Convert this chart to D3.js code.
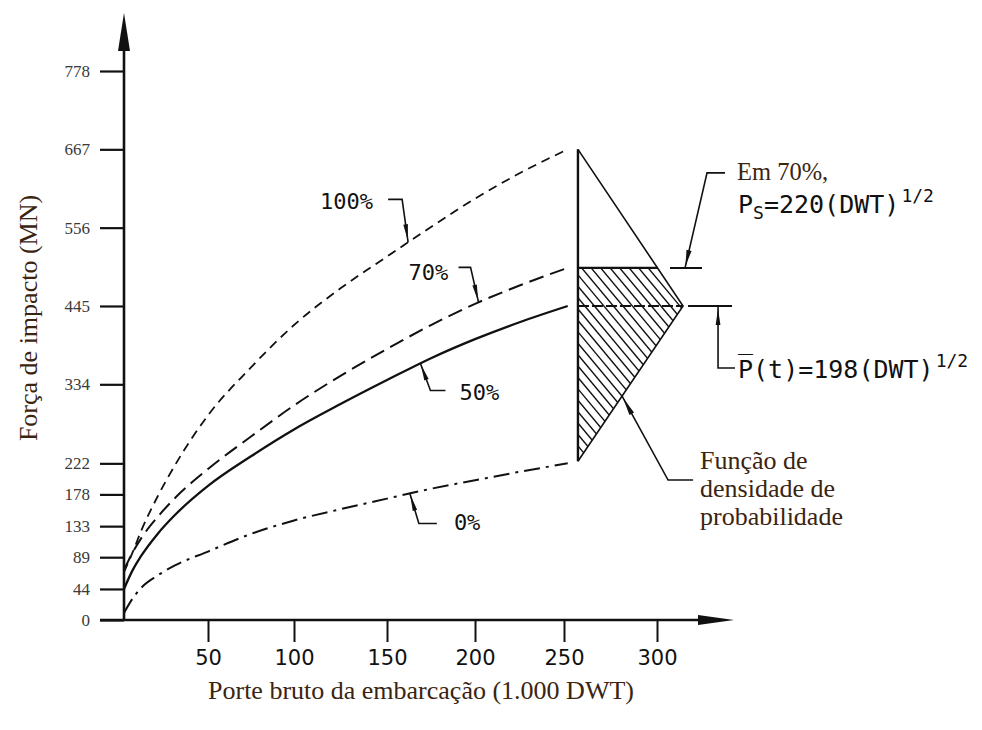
<!DOCTYPE html>
<html lang="pt">
<head>
<meta charset="UTF-8">
<title>Força de impacto x porte bruto</title>
<script src="https://d3js.org/d3.v7.min.js"></script>
<style>
  body { margin: 0; background: #fff; }
  .serif { font-family: 'Liberation Serif', 'Times New Roman', serif; }
  .plotter { font-family: 'DejaVu Sans Mono', monospace; }
</style>
</head>
<body>
<script>
const width = 982, height = 730;

// porte bruto da embarcação (1.000 DWT)
const dwt  = [0, 5, 10, 20, 30, 50, 75, 100, 125, 150, 175, 200, 225, 252];
// força de impacto (MN) para cada nível de probabilidade
const p100 = [68, 95, 125, 175, 218, 290, 358, 418, 470, 515, 557, 597, 633, 667];
const p70  = [71, 95, 115, 146, 172, 214, 260, 304, 346, 384, 418, 448, 474, 499];
const p50  = [44, 70, 90, 122, 148, 190, 232, 270, 306, 340, 371, 398, 422, 445];
const p0   = [10, 30, 45, 63, 77, 97, 122, 141, 157, 172, 186, 198, 210, 222];

const yTicks = [0, 44, 89, 133, 178, 222, 334, 445, 556, 667, 778];
const xTicks = [50, 100, 150, 200, 250, 300];
const xTickPos = [124, 208, 294, 387, 475, 564, 657];   // eixo desenhado à mão

// função de densidade (triângulo) em 250 mil DWT
const pdfBase = 257.5, pdfPeak = 314;
const pdfTop = 667, pdfMean = 445, pdfLow = 225, pdf70 = 499;

const x = d3.scaleLinear().domain([0].concat(xTicks)).range(xTickPos);
const y = d3.scaleLinear().domain([0, 778]).range([620, 71]);

const svg = d3.select("body").append("svg")
    .attr("width", width).attr("height", height);

const ink = "#111";

function arrowHead(g, tip, from, len, w) {
    const dx = tip[0] - from[0], dy = tip[1] - from[1];
    const L = Math.hypot(dx, dy), ux = dx / L, uy = dy / L;
    const bx = tip[0] - ux * len, by = tip[1] - uy * len;
    g.append("path")
        .attr("d", `M${tip[0]},${tip[1]}L${bx - uy * w},${by + ux * w}L${bx + uy * w},${by - ux * w}Z`)
        .attr("fill", ink);
}

// eixos
const yAxis = svg.append("g").attr("transform", "translate(124,0)")
    .call(d3.axisLeft(y).tickValues(yTicks).tickSize(24).tickPadding(10));
yAxis.select(".domain").remove();
yAxis.selectAll("line").attr("stroke", ink).attr("stroke-width", 2.2);
yAxis.selectAll("text").attr("class", "serif").attr("font-size", 17).attr("fill", "#3a3a3a");

const xAxis = svg.append("g").attr("transform", "translate(0,620)")
    .call(d3.axisBottom(x).tickValues(xTicks).tickSize(22).tickPadding(8));
xAxis.select(".domain").remove();
xAxis.selectAll("line").attr("stroke", ink).attr("stroke-width", 2);
xAxis.selectAll("text").attr("font-family", "'DejaVu Sans', sans-serif")
    .attr("font-size", 21).attr("fill", ink);

svg.append("line").attr("x1", 124).attr("x2", 124).attr("y1", 621).attr("y2", 40)
    .attr("stroke", ink).attr("stroke-width", 2.6);
arrowHead(svg, [124, 13], [124, 60], 38, 6);
svg.append("line").attr("x1", 100).attr("x2", 710).attr("y1", 620).attr("y2", 620)
    .attr("stroke", ink).attr("stroke-width", 2.6);
arrowHead(svg, [734, 620], [600, 620], 36, 5);

// curvas
const line = d3.line().x(d => x(d[0])).y(d => y(d[1])).curve(d3.curveMonotoneX);
const series = [
    {v: p100, dash: "9,6", w: 1.8},
    {v: p70, dash: "15,7", w: 2},
    {v: p50, dash: null, w: 2.3},
    {v: p0, dash: "16,6,3,6", w: 2}
];
series.forEach(s => {
    svg.append("path")
        .attr("d", line(d3.zip(dwt, s.v)))
        .attr("fill", "none").attr("stroke", ink)
        .attr("stroke-width", s.w)
        .attr("stroke-dasharray", s.dash);
});

// rótulos das curvas
const labels = [
    {text: "100%", v: p100, at: 162, path: [[-6, -43], [-20, -43]], tx: -88, ty: -33},
    {text: "70%", v: p70, at: 202, path: [[-8, -35], [-20, -35]], tx: -70, ty: -22},
    {text: "50%", v: p50, at: 169, path: [[10, 27], [25, 27]], tx: 39, ty: 37},
    {text: "0%", v: p0, at: 163, path: [[9, 30], [27, 30]], tx: 44, ty: 37}
];
labels.forEach(l => {
    const val = d3.scaleLinear().domain(dwt).range(l.v)(l.at);
    const tip = [x(l.at), y(val)];
    const pts = [tip].concat(l.path.map(p => [tip[0] + p[0], tip[1] + p[1]]));
    svg.append("path").attr("d", d3.line()(pts))
        .attr("fill", "none").attr("stroke", ink).attr("stroke-width", 1.6);
    arrowHead(svg, [tip[0] + (pts[1][0] - tip[0]) * 0.05, tip[1] + (pts[1][1] - tip[1]) * 0.05], pts[1], 16, 2.3);
    svg.append("text").attr("class", "plotter")
        .attr("x", tip[0] + l.tx).attr("y", tip[1] + l.ty)
        .attr("font-size", 22).attr("fill", ink)
        .text(l.text);
});

// função de densidade de probabilidade
const xb = x(pdfBase), xp = x(pdfPeak);
const tEdge = (pdfTop - pdf70) / (pdfTop - pdfMean);
const xEdge = xb + tEdge * (xp - xb);

const clip = svg.append("clipPath").attr("id", "hatch");
clip.append("path").attr("d", d3.line()([
    [xb, y(pdf70)], [xEdge, y(pdf70)], [xp, y(pdfMean)], [xb, y(pdfLow)]
]) + "Z");
const hatch = svg.append("g").attr("clip-path", "url(#hatch)");
const hTop = y(pdf70) - 5, hBot = y(pdfLow) + 5, slope = 1.2;
d3.range(xb - 200, xp + 10, 9.5).forEach(x0 => {
    hatch.append("line")
        .attr("x1", x0).attr("y1", hTop)
        .attr("x2", x0 + (hBot - hTop) / slope).attr("y2", hBot)
        .attr("stroke", ink).attr("stroke-width", 1.4);
});

svg.append("path").attr("d", `M${xb},${y(pdfTop)}L${xp},${y(pdfMean)}L${xb},${y(pdfLow)}`)
    .attr("fill", "none").attr("stroke", ink).attr("stroke-width", 1.6);
svg.append("line").attr("x1", xb).attr("x2", xb).attr("y1", y(pdfTop)).attr("y2", y(pdfLow))
    .attr("stroke", ink).attr("stroke-width", 2.4);
svg.append("line").attr("x1", xb).attr("x2", xEdge).attr("y1", y(pdf70)).attr("y2", y(pdf70))
    .attr("stroke", ink).attr("stroke-width", 2.2);
svg.append("line").attr("x1", xb).attr("x2", xp).attr("y1", y(pdfMean)).attr("y2", y(pdfMean))
    .attr("stroke", ink).attr("stroke-width", 2).attr("stroke-dasharray", "11,3");

// anotação: 70%
const y70 = y(pdf70), yM = y(pdfMean);
svg.append("line").attr("x1", xp - 13).attr("x2", xp + 19).attr("y1", y70).attr("y2", y70)
    .attr("stroke", ink).attr("stroke-width", 2);
svg.append("path").attr("d", `M${xp + 42},${y70 - 95}H${xp + 24}L${xp + 2},${y70}`)
    .attr("fill", "none").attr("stroke", ink).attr("stroke-width", 1.6);
arrowHead(svg, [xp + 2.4, y70 - 2], [xp + 24, y70 - 95], 16, 2.6);

// anotação: média
svg.append("line").attr("x1", xp + 5).attr("x2", xp + 49).attr("y1", yM).attr("y2", yM)
    .attr("stroke", ink).attr("stroke-width", 2);
svg.append("path").attr("d", `M${xp + 35},${yM}V${yM + 62}H${xp + 52}`)
    .attr("fill", "none").attr("stroke", ink).attr("stroke-width", 1.6);
arrowHead(svg, [xp + 35, yM + 3], [xp + 35, yM + 62], 16, 2.4);

// anotação: densidade
const tLow = 0.58;
const tipPdf = [xp - tLow * (xp - xb), yM + tLow * (y(pdfLow) - yM)];
svg.append("path").attr("d", `M${tipPdf[0]},${tipPdf[1]}L${tipPdf[0] + 46},${tipPdf[1] + 84}H${tipPdf[0] + 71}`)
    .attr("fill", "none").attr("stroke", ink).attr("stroke-width", 1.6);
arrowHead(svg, [tipPdf[0] + 1, tipPdf[1] + 2], [tipPdf[0] + 46, tipPdf[1] + 84], 18, 2.6);

const txtColor = "#3b2410";
svg.append("text").attr("class", "serif").attr("x", 737).attr("y", 180)
    .attr("font-size", 24.5).attr("fill", txtColor).text("Em 70%,");

const ps = svg.append("text").attr("class", "plotter").attr("x", 738).attr("y", 213)
    .attr("font-size", 25).attr("fill", ink);
ps.append("tspan").text("P");
ps.append("tspan").attr("font-size", 18).attr("dy", 6).text("S");
ps.append("tspan").attr("dy", -6).text("=220(DWT)");
ps.append("tspan").attr("font-size", 18).attr("dy", -11).attr("dx", 2).text("1/2");

const pt = svg.append("text").attr("class", "plotter").attr("x", 738).attr("y", 378)
    .attr("font-size", 25).attr("fill", ink);
pt.append("tspan").text("P\u0305(t)=198(DWT)");
pt.append("tspan").attr("font-size", 18).attr("dy", -11).attr("dx", 2).text("1/2");

["Função de", "densidade de", "probabilidade"].forEach((s, i) => {
    svg.append("text").attr("class", "serif")
        .attr("x", 700).attr("y", 469 + i * 28)
        .attr("font-size", 26).attr("fill", txtColor).text(s);
});

// títulos dos eixos
svg.append("text").attr("class", "serif")
    .attr("x", 421).attr("y", 699).attr("text-anchor", "middle")
    .attr("font-size", 26).attr("fill", txtColor)
    .text("Porte bruto da embarcação (1.000 DWT)");
svg.append("text").attr("class", "serif")
    .attr("transform", "translate(37,318) rotate(-90)").attr("text-anchor", "middle")
    .attr("font-size", 26).attr("fill", txtColor)
    .text("Força de impacto (MN)");
</script>
</body>
</html>
